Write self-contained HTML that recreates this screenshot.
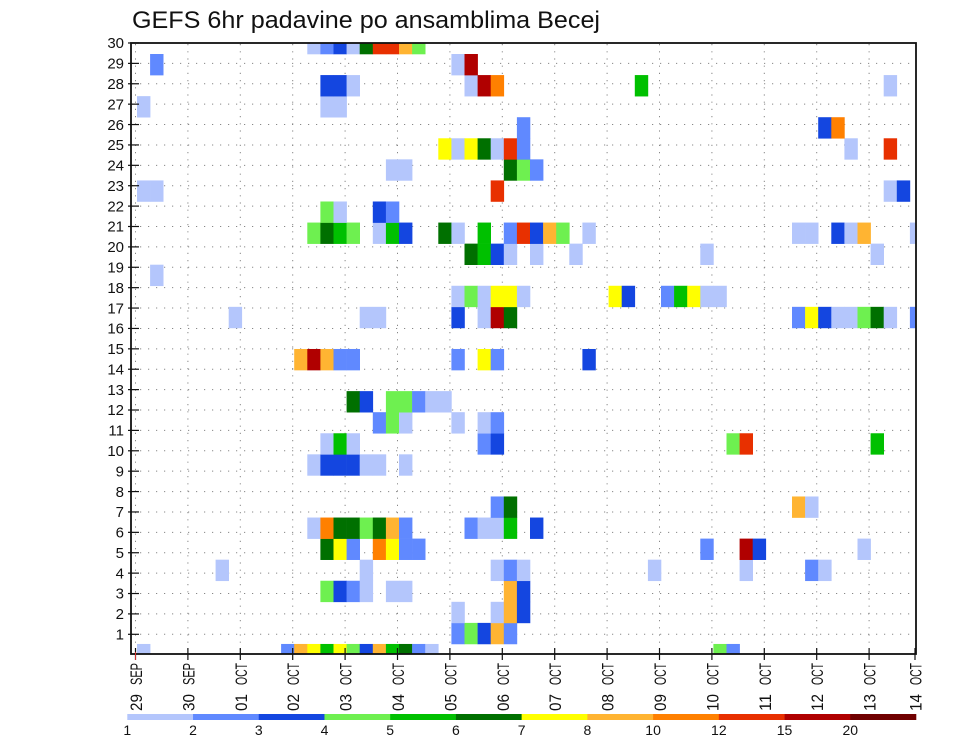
<!DOCTYPE html>
<html><head><meta charset="utf-8"><title>GEFS 6hr padavine</title>
<style>html,body{margin:0;padding:0;background:#fff;}svg{display:block;font-family:"Liberation Sans",sans-serif;}</style>
</head><body>
<svg id="chart" width="960" height="742" viewBox="0 0 960 742" xmlns="http://www.w3.org/2000/svg">
<rect width="960" height="742" fill="#fff"/>
<text x="132" y="28" font-size="24" textLength="468" lengthAdjust="spacingAndGlyphs" fill="#111">GEFS 6hr padavine po ansamblima Becej</text>
<defs><clipPath id="plotclip"><rect x="131" y="43" width="785" height="611"/></clipPath></defs>
<g id="grid"></g>
<g id="cells" clip-path="url(#plotclip)"></g>
<rect x="131" y="43" width="785" height="611" fill="none" stroke="#111" stroke-width="1.8"/>
<g id="axes"></g>
<g id="legend"></g>
</svg>
<script>
// chart data
const dayLabels = ["29 SEP","30 SEP","01 OCT","02 OCT","03 OCT","04 OCT","05 OCT","06 OCT","07 OCT","08 OCT","09 OCT","10 OCT","11 OCT","12 OCT","13 OCT","14 OCT"];
const memberTicks = [1,2,3,4,5,6,7,8,9,10,11,12,13,14,15,16,17,18,19,20,21,22,23,24,25,26,27,28,29,30];
const levelBounds = [1,2,3,4,5,6,7,8,10,12,15,20];
const levelColors = ["#b4c6fc","#6089ff","#1446e0","#6ef050","#00c000","#007000","#ffff00","#ffb432","#ff8000","#e83000","#b00000","#700000"];
// representative precipitation (mm) read per level band
const lv = [1.5,2.5,3.5,4.5,5.5,6.5,7.5,9,11,13.5,17,25];
// cells: member (ensemble row), time step (6hr index from 29 SEP 00Z), precip level code
const cellMember = [];
const cellStep = [];
const cellPrecip = [];
const rowsRaw = {
30:[[13,1],[14,2],[15,3],[16,1],[17,6],[18,10],[19,10],[20,8],[21,4]],
29:[[1,2],[24,1],[25,11]],
28:[[14,3],[15,3],[16,1],[25,1],[26,11],[27,9],[38,5],[57,1]],
27:[[0,1],[14,1],[15,1]],
26:[[29,2],[52,3],[53,9]],
25:[[23,7],[24,1],[25,7],[26,6],[27,1],[28,10],[29,2],[54,1],[57,10]],
24:[[19,1],[20,1],[28,6],[29,4],[30,2]],
23:[[0,1],[1,1],[27,10],[57,1],[58,3]],
22:[[14,4],[15,1],[18,3],[19,2]],
21:[[13,4],[14,6],[15,5],[16,4],[18,1],[19,5],[20,3],[23,6],[24,1],[26,5],[28,2],[29,10],[30,3],[31,8],[32,4],[34,1],[50,1],[51,1],[53,3],[54,1],[55,8],[59,1]],
20:[[25,6],[26,5],[27,3],[28,1],[30,1],[33,1],[43,1],[56,1]],
19:[[1,1]],
18:[[24,1],[25,4],[26,1],[27,7],[28,7],[29,1],[36,7],[37,3],[40,2],[41,5],[42,7],[43,1],[44,1]],
17:[[7,1],[17,1],[18,1],[24,3],[26,1],[27,11],[28,6],[50,2],[51,7],[52,3],[53,1],[54,1],[55,4],[56,6],[57,1],[59,2]],
15:[[12,8],[13,11],[14,8],[15,2],[16,2],[24,2],[26,7],[27,2],[34,3]],
13:[[16,6],[17,3],[19,4],[20,4],[21,2],[22,1],[23,1]],
12:[[18,2],[19,4],[20,1],[24,1],[26,1],[27,2]],
11:[[14,1],[15,5],[16,1],[26,2],[27,3],[45,4],[46,10],[56,5]],
10:[[13,1],[14,3],[15,3],[16,3],[17,1],[18,1],[20,1]],
8:[[27,2],[28,6],[50,8],[51,1]],
7:[[13,1],[14,9],[15,6],[16,6],[17,4],[18,6],[19,8],[20,2],[25,2],[26,1],[27,1],[28,5],[30,3]],
6:[[14,6],[15,7],[16,2],[18,9],[19,7],[20,2],[21,2],[43,2],[46,11],[47,3],[55,1]],
5:[[6,1],[17,1],[27,1],[28,2],[29,1],[39,1],[46,1],[51,2],[52,1]],
4:[[14,4],[15,3],[16,2],[17,1],[19,1],[20,1],[28,8],[29,3]],
3:[[24,1],[27,1],[28,8],[29,3]],
2:[[24,2],[25,4],[26,3],[27,8],[28,2]],
1:[[0,1],[11,2],[12,8],[13,7],[14,5],[15,7],[16,4],[17,3],[18,8],[19,5],[20,6],[21,2],[22,1],[44,4],[45,2]]
};
for (const m in rowsRaw) { for (const p of rowsRaw[m]) { cellMember.push(+m); cellStep.push(p[0]); cellPrecip.push(lv[p[1]-1]); } }

const NS = "http://www.w3.org/2000/svg";
function mk(tag, attrs, parent) { const e = document.createElementNS(NS, tag); for (const k in attrs) e.setAttribute(k, attrs[k]); parent.appendChild(e); return e; }
// axis functions
const X0 = 135.5, DAY = 52.4, CELLX0 = 137, CELLW = 13.1;
function xDay(d) { return Math.min(X0 + d * DAY, 915); }
function xStep(s) { return CELLX0 + s * CELLW; }
function yTick(m) { return 634.3 - (m - 1) * 20.39; }
const ROWH = 21.07;
function yCellTop(m) { return 54 + (29 - m) * ROWH; }
function colorFor(v) { let i = -1; for (let j = 0; j < levelBounds.length; j++) if (v >= levelBounds[j]) i = j; return i < 0 ? null : levelColors[i]; }

const grid = document.getElementById('grid');
for (let d = 0; d < 15; d++) {
  const l = mk('line', {x1: xDay(d), x2: xDay(d), y1: 44, y2: 653, stroke: '#888', 'stroke-width': 1, 'stroke-dasharray': '1.2,6'}, grid);
  
  
}
for (const m of memberTicks) {
  if (m === 30) continue;
  const l = mk('line', {x1: 132, x2: 915, y1: yTick(m), y2: yTick(m), stroke: '#888', 'stroke-width': 1, 'stroke-dasharray': '1.2,6.8'}, grid);
  
  
}

const cells = document.getElementById('cells');
for (let i = 0; i < cellMember.length; i++) {
  const c = colorFor(cellPrecip[i]); if (!c) continue;
  const r = mk('rect', {x: xStep(cellStep[i]), y: yCellTop(cellMember[i]), width: CELLW + 0.3, height: ROWH + 0.3, fill: c}, cells);
  
  
}

const axes = document.getElementById('axes');
for (const m of memberTicks) {
  const y = yTick(m);
  const t = mk('line', {x1: 128, x2: 139, y1: y, y2: y, stroke: '#111', 'stroke-width': 1.2}, axes);
  
  
  const tx = mk('text', {x: 124, y: y + 5.2, 'font-size': 15, 'text-anchor': 'end', fill: '#111'}, axes);
  tx.textContent = String(m);
  
  
}
for (let d = 0; d < dayLabels.length; d++) {
  const x = xDay(d);
  const t = mk('line', {x1: x, x2: x, y1: 648, y2: 660, stroke: '#111', 'stroke-width': 1.2}, axes);
  
  
  const parts = dayLabels[d].split(' ');
  const a = mk('text', {transform: 'translate(' + (x + 6.5) + ',711) rotate(-90)', 'font-size': 17, 'text-anchor': 'start', fill: '#111', textLength: 17, lengthAdjust: 'spacingAndGlyphs'}, axes);
  a.textContent = parts[0];
  
  
  const b = mk('text', {transform: 'translate(' + (x + 6.5) + ',663) rotate(-90)', 'font-size': 17, 'text-anchor': 'end', fill: '#111', textLength: 22, lengthAdjust: 'spacingAndGlyphs'}, axes);
  b.textContent = parts[1];
  
  
}
const rt = mk('line', {x1: 135.5, x2: 135.5, y1: 652, y2: 660, stroke: '#d03030', 'stroke-width': 1}, axes);



const legend = document.getElementById('legend');
const LX0 = 127.3, LW = (916 - 127.3) / levelColors.length;
for (let i = 0; i < levelColors.length; i++) {
  const r = mk('rect', {x: LX0 + i * LW, y: 714, width: LW + 0.3, height: 6, fill: levelColors[i]}, legend);
  
  
  const t = mk('text', {x: LX0 + i * LW, y: 735, 'font-size': 14, 'text-anchor': 'middle', fill: '#111'}, legend);
  t.textContent = String(levelBounds[i]);
  
  
}
</script>
</body></html>
